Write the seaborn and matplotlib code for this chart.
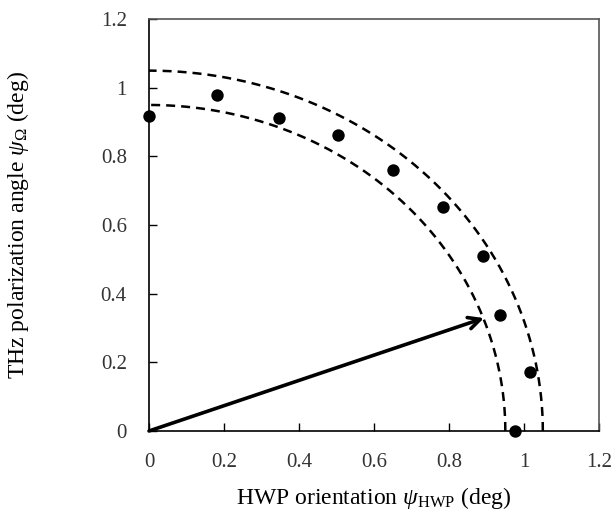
import numpy as np
import pandas as pd
import seaborn as sns
import matplotlib.pyplot as plt

# Measured polarization angle versus half-wave-plate orientation
hwp_deg = [0.0, 0.18, 0.347, 0.504, 0.651, 0.785, 0.89, 0.936, 1.015, 0.976]
thz_deg = [0.918, 0.98, 0.913, 0.863, 0.761, 0.653, 0.51, 0.338, 0.172, 0.0]

# Radii of the bounding arcs
ring_radii = [0.95, 1.05]

# Arrow tip (HWP, THz)
arrow_tip = [0.893, 0.329]

tick_values = [0, 0.2, 0.4, 0.6, 0.8, 1.0, 1.2]
tick_labels = ["0", "0.2", "0.4", "0.6", "0.8", "1", "1.2"]

sns.set_theme(style="white")
plt.rcParams["font.family"] = ["Liberation Serif", "DejaVu Serif"]
plt.rcParams["mathtext.fontset"] = "custom"
plt.rcParams["mathtext.rm"] = "Liberation Serif"
plt.rcParams["mathtext.it"] = "Liberation Serif:italic"

fig = plt.figure(figsize=(6.14, 5.18), dpi=100)
ax = fig.add_axes([0.2427, 0.168, 0.733, 0.795])

# Dashed arcs
theta = np.linspace(0, np.pi / 2, 200)
arcs = pd.concat(
    [pd.DataFrame({"x": r * np.cos(theta), "y": r * np.sin(theta), "r": r})
     for r in ring_radii]
)
for r, grp in arcs.groupby("r"):
    sns.lineplot(data=grp, x="x", y="y", sort=False, ax=ax, color="black",
                 linewidth=1.8, linestyle=(0, (3.6, 2.4)), estimator=None)

# Arrow from origin
ax.annotate("", xy=(arrow_tip[0], arrow_tip[1]), xytext=(0, 0),
            arrowprops=dict(arrowstyle="->,head_length=0.7,head_width=0.35",
                            color="black", lw=2.6, shrinkA=0, shrinkB=0),
            zorder=3)

# Data points
pts = pd.DataFrame({"hwp": hwp_deg, "thz": thz_deg})
sns.scatterplot(data=pts, x="hwp", y="thz", ax=ax, color="black", s=80,
                edgecolor="black", linewidth=0, zorder=4, clip_on=False)

ax.set_xlim(0, 1.2)
ax.set_ylim(0, 1.2)
ax.set_xticks(tick_values)
ax.set_xticklabels(tick_labels)
ax.set_yticks(tick_values)
ax.set_yticklabels(tick_labels)
ax.tick_params(axis="both", direction="in", length=6, width=1, colors="black",
               labelsize=15, labelcolor="#333333")
ax.tick_params(axis="x", pad=16)
ax.tick_params(axis="y", pad=16)
ax.tick_params(bottom=True, left=True, top=False, right=False)

for side in ["left", "bottom"]:
    ax.spines[side].set_color("black")
    ax.spines[side].set_linewidth(1.2)
for side in ["top", "right"]:
    ax.spines[side].set_color("#555555")
    ax.spines[side].set_linewidth(1.2)

ax.set_xlabel(r"HWP orientation $\psi_{\mathrm{HWP}}$ (deg)", fontsize=17, color="black")
ax.set_ylabel(r"THz polarization angle $\psi_{\Omega}$ (deg)", fontsize=17, color="black")
ax.xaxis.set_label_coords(0.5, -0.13)
ax.yaxis.set_label_coords(-0.262, 0.5)

fig.savefig("out.png", dpi=100)
